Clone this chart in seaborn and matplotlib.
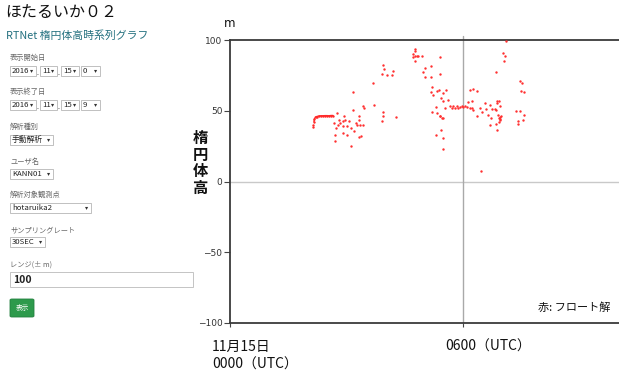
import matplotlib
matplotlib.use("Agg")
import matplotlib.pyplot as plt
import matplotlib.transforms as mtransforms
from matplotlib.patches import Rectangle, FancyBboxPatch
import pandas as pd
import seaborn as sns

# ---- data: ellipsoidal height (m) vs. hours since 2016-11-15 00:00 UTC ----
# continuous run of float solutions (dense 30 s samples)
run_hours = [2.150, 2.150, 2.163, 2.176, 2.202, 2.240, 2.292, 2.343, 2.395,
             2.447, 2.498, 2.550, 2.601, 2.653]
run_height = [38.2, 39.6, 42.4, 44.2, 45.6, 45.9, 46.3, 46.4, 46.4,
              46.5, 46.5, 46.4, 46.6, 46.6]

# scattered float solutions
hours = [2.748, 2.686, 2.722, 2.712, 2.712, 2.807, 2.789, 2.841, 2.902, 2.936,
         2.962, 2.918, 2.902, 3.005, 3.021, 3.072, 3.108, 3.108, 3.160, 3.175,
         3.193, 3.237, 3.271, 3.314, 3.330, 3.356, 3.374, 3.314, 3.433, 3.443,
         3.425, 3.708, 3.683, 3.933, 3.922, 3.948, 4.267, 3.933, 3.974, 3.915,
         4.036, 4.164, 4.206,
         4.757, 4.764, 4.705, 4.757, 4.808, 4.849, 4.721, 4.937, 4.757, 5.408,
         5.030, 5.169, 4.978, 5.408, 5.014, 5.169, 5.202, 5.323, 5.390, 5.563,
         5.169, 5.236, 5.493, 5.442, 5.622, 5.493, 5.305, 5.537, 5.666, 5.709,
         5.751, 5.795, 5.838, 5.880, 5.923, 5.967, 6.008, 6.052, 6.096, 6.137,
         6.181, 6.225, 6.181, 6.266, 6.369, 5.194, 5.408, 5.460, 5.426, 5.305,
         5.493, 5.478, 6.245, 6.266, 6.353, 6.438, 6.482, 6.567, 6.593, 6.652,
         6.696, 6.714, 6.740, 6.825, 6.868, 6.884, 6.935, 6.953, 6.850, 6.910,
         6.920, 6.953, 6.953, 6.971, 6.850, 6.696, 6.868, 6.456, 7.038, 7.090,
         7.056, 7.108, 6.850, 7.468, 7.528, 7.502, 7.579, 7.365, 7.468, 7.579,
         7.425, 7.425, 7.553, 5.322, 5.408, 5.478, 6.958, 6.940]
height = [48.1, 41.0, 38.0, 33.2, 28.5, 43.8, 39.8, 41.5, 42.6, 46.1,
          43.8, 39.1, 34.4, 33.2, 39.1, 42.6, 38.0, 24.9, 50.4, 63.1,
          35.5, 41.5, 39.6, 46.1, 43.8, 40.1, 32.0, 31.6, 53.7, 51.8,
          39.6, 54.4, 69.3, 49.3, 42.6, 46.1, 45.7, 82.0, 79.6, 76.3,
          75.6, 75.6, 78.0,
          93.8, 92.1, 89.8, 89.0, 88.6, 89.0, 87.8, 89.0, 85.0, 87.8,
          80.4, 81.5, 77.2, 76.1, 74.0, 74.0, 66.9, 64.3, 64.5, 64.5,
          63.1, 60.8, 62.2, 58.9, 57.5, 56.7, 52.8, 52.1, 53.7, 52.1,
          53.2, 52.1, 53.7, 52.1, 52.8, 53.7, 52.8, 53.7, 52.8, 56.0,
          52.1, 56.7, 65.0, 65.5, 63.8, 49.0, 46.6, 45.0, 36.3, 33.2,
          30.9, 23.3, 51.6, 50.4, 46.6, 52.1, 49.0, 55.6, 50.9, 47.3,
          54.4, 45.0, 50.9, 51.4, 55.6, 56.7, 56.7, 53.2, 50.4, 47.3,
          45.0, 45.7, 43.8, 46.6, 40.3, 39.6, 36.7, 7.3, 90.5, 89.0,
          85.0, 99.5, 77.2, 70.9, 69.8, 63.8, 63.1, 49.7, 49.7, 47.3,
          42.6, 40.3, 43.3, 48.5, 46.6, 45.0, 44.5, 42.0]

y_ticks = [-100, -50, 0, 50, 100]
x_ticks = [0, 6]
x_tick_labels = ["11月15日\n0000（UTC）", "0600（UTC）"]

# ---- form panel contents ----
page_title = "ほたるいか０２"
page_subtitle = "RTNet 楕円体高時系列グラフ"
start_date = ["2016", "11", "15", "0"]
end_date = ["2016", "11", "15", "9"]
analysis_type = "手動解析"
user_name = "KANN01"
station = "hotaruika2"
sampling_rate = "30SEC"
range_value = "100"

sns.set_style("white")
plt.rcParams["font.family"] = ["Noto Sans CJK JP", "DejaVu Sans"]

W, H = 619, 373
fig = plt.figure(figsize=(W / 100, H / 100), dpi=100)
fig.patch.set_facecolor("white")


def fx(px):
    return px / W


def fy(py):
    return 1 - py / H


def label(px, py, s, size=5.2, color="#666666", **kw):
    fig.text(fx(px), fy(py), s, fontsize=size, color=color, va="center", ha="left", **kw)


def select(x0, x1, y0, y1, s, size=5.6):
    fig.patches.append(Rectangle((fx(x0), fy(y1)), fx(x1) - fx(x0), fy(y0) - fy(y1),
                                 transform=fig.transFigure, facecolor="white",
                                 edgecolor="#b5b5b5", linewidth=0.6))
    fig.text(fx(x0 + 2), fy((y0 + y1) / 2), s, fontsize=size, color="#222222",
             va="center", ha="left")
    fig.text(fx(x1 - 3), fy((y0 + y1) / 2), "▾", fontsize=4.5, color="#333333",
             va="center", ha="right", family="DejaVu Sans")


# header
fig.text(fx(5), fy(13), page_title, fontsize=11.5, color="#111111", va="center", ha="left")
fig.text(fx(6), fy(36), page_subtitle, fontsize=7.8, color="#23707f", va="center", ha="left")

# date pickers
date_boxes = [(10, 36), (40, 57), (61, 79), (81, 100)]
for row_y, values, caption in [(58, start_date, "表示開始日"), (92, end_date, "表示終了日")]:
    label(10, row_y, caption)
    y0 = row_y + 8
    for (x0, x1), v in zip(date_boxes, values):
        select(x0, x1, y0, y0 + 10, v)
    for dx in (37.5, 58.5):
        fig.text(fx(dx), fy(y0 + 7), ".", fontsize=5, color="#333333", ha="center", va="center")

label(10, 127, "解析種別")
select(10, 53, 135, 145, analysis_type)
label(10, 162, "ユーザ名")
select(10, 53, 169, 179, user_name)
label(10, 195, "解析対象観測点")
select(10, 91, 203, 213, station)
label(10, 230, "サンプリングレート")
select(10, 45, 237, 247, sampling_rate)
label(10, 265, "レンジ(± m)")
fig.patches.append(Rectangle((fx(10), fy(287)), fx(193) - fx(10), fy(272) - fy(287),
                             transform=fig.transFigure, facecolor="white",
                             edgecolor="#c4c4c4", linewidth=0.7))
fig.text(fx(13), fy(280), range_value, fontsize=7.5, color="#222222", va="center",
         ha="left", fontweight="bold")
fig.patches.append(FancyBboxPatch((fx(10), fy(317)), fx(34) - fx(10), fy(299) - fy(317),
                                  boxstyle="round,pad=0,rounding_size=0.003",
                                  transform=fig.transFigure, facecolor="#2d9a4c",
                                  edgecolor="#23803e", linewidth=0.6))
fig.text(fx(22), fy(308), "表示", fontsize=4.8, color="white", va="center", ha="center")

# ---- chart ----
ax = fig.add_axes([fx(230), fy(323), fx(W) - fx(230), fy(40) - fy(323)])
ax.set_facecolor("white")

ax.axhline(0, color="#c9c9c9", linewidth=1.0, zorder=1)
ax.axvline(6, color="#a9a9a9", linewidth=1.0, ymax=1.015, clip_on=False, zorder=1)

run_df = pd.DataFrame({"hour": run_hours, "height": run_height})
pts_df = pd.DataFrame({"hour": hours, "height": height})

sns.lineplot(data=run_df.iloc[2:], x="hour", y="height", ax=ax, color="#ff2a2a",
             linewidth=1.1, sort=False, zorder=3)
sns.scatterplot(data=run_df, x="hour", y="height", ax=ax, color="#ff2a2a", s=3,
                linewidth=0, zorder=3)
sns.scatterplot(data=pts_df, x="hour", y="height", ax=ax, color="#ff3030", s=3,
                linewidth=0, zorder=3)

ax.set_xlim(0, (W - 230) / 38.83)
ax.set_ylim(-100, 100)
ax.set_xlabel("")
ax.set_ylabel("楕\n円\n体\n高", rotation=0, fontsize=11, fontweight="bold",
              linespacing=1.05, ha="center", va="center", color="#111111")
ax.yaxis.set_label_coords(-0.077, 0.565)

ax.set_yticks(y_ticks)
ax.set_yticklabels([f"{t}".replace("-", "−") for t in y_ticks], fontsize=6.5,
                   color="#333333", family=["DejaVu Sans"])
ax.set_xticks(x_ticks)
ax.set_xticklabels(x_tick_labels, fontsize=10, color="#111111", linespacing=1.4)
ax.tick_params(axis="y", length=4, width=0.8, color="#444444", direction="out", pad=1.5, left=True)
ax.tick_params(axis="x", length=3, width=0.8, color="#444444", direction="out", pad=9, bottom=True)
shift = mtransforms.ScaledTranslation(-18 / 100, 0, fig.dpi_scale_trans)
for lbl in ax.get_xticklabels():
    lbl.set_horizontalalignment("left")
    lbl.set_verticalalignment("top")
    lbl.set_transform(lbl.get_transform() + shift)

for side in ("left", "bottom", "top"):
    ax.spines[side].set_visible(True)
    ax.spines[side].set_color("#3a3a3a")
    ax.spines[side].set_linewidth(1.3)
ax.spines["right"].set_visible(False)

ax.text(0.0, 1.057, "m", transform=ax.transAxes, fontsize=8.5, ha="center", va="center",
        color="#111111", family=["DejaVu Sans"])
ax.text(0.979, 0.053, "赤: フロート解", transform=ax.transAxes, fontsize=8, ha="right",
        va="center", color="#111111")

fig.savefig("out.png", dpi=100)
